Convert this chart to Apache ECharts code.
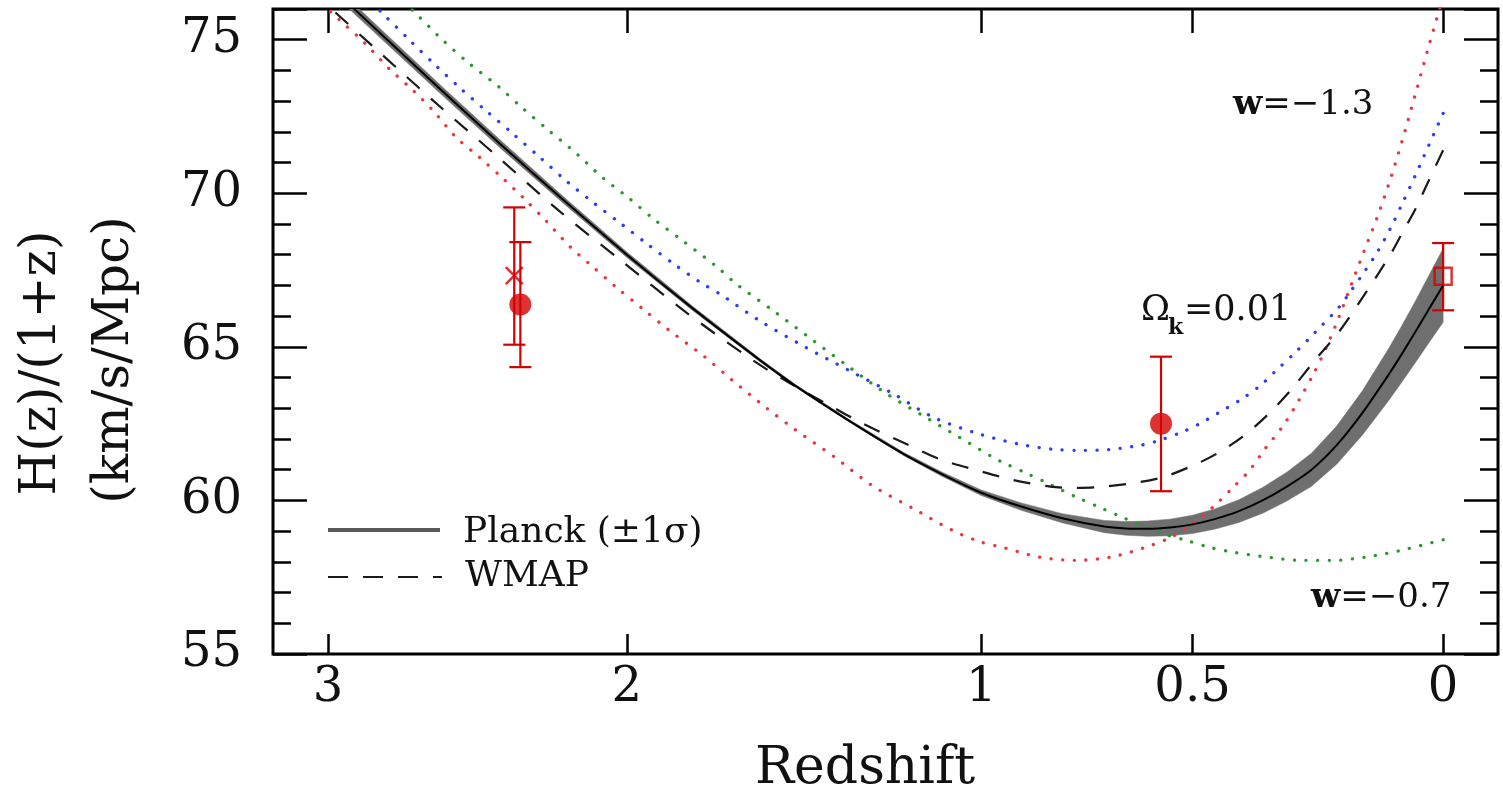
<!DOCTYPE html>
<html>
<head>
<meta charset="utf-8">
<title>H(z)/(1+z) vs redshift</title>
<script src="https://cdn.jsdelivr.net/npm/echarts@6/dist/echarts.min.js"></script>
<style>
html, body { margin: 0; padding: 0; background: #fff; }
#chart { width: 1503px; height: 793px; }
</style>
</head>
<body>
<div id="chart"></div>
<script>
// x ticks (redshift)
const xTicks = [3, 2, 1, 0.5, 0]

// Planck (with +-1 sigma band)
const planckZ = [0, 0.025, 0.05, 0.075, 0.1, 0.15, 0.2, 0.25, 0.3, 0.35, 0.4, 0.45, 0.5, 0.55, 0.6, 0.65, 0.7, 0.8, 0.9, 1.0, 1.1, 1.2, 1.35, 1.5, 1.6, 1.8, 2.0, 2.2, 2.4, 2.6, 2.8, 3.0, 3.2]
const planckH = [67.0, 66.25, 65.5, 64.78, 64.1, 62.85, 61.8, 61.0, 60.45, 60.0, 59.65, 59.4, 59.22, 59.12, 59.08, 59.09, 59.15, 59.42, 59.8, 60.25, 60.85, 61.5, 62.6, 63.74, 64.56, 66.26, 68.0, 69.78, 71.55, 73.32, 75.08, 76.8, 78.5]
const planckSigma = [1.2, 1.1, 1.0, 0.92, 0.85, 0.72, 0.62, 0.54, 0.47, 0.42, 0.37, 0.33, 0.3, 0.27, 0.25, 0.22, 0.2, 0.15, 0.12, 0.09, 0.07, 0.05, 0.04, 0.04, 0.05, 0.07, 0.09, 0.11, 0.13, 0.14, 0.15, 0.16, 0.17]

// WMAP
const wmapZ = [0, 0.025, 0.05, 0.075, 0.097, 0.146, 0.195, 0.244, 0.294, 0.344, 0.394, 0.444, 0.494, 0.565, 0.635, 0.717, 0.768, 0.829, 0.921, 1.002, 1.104, 1.206, 1.308, 1.409, 1.512, 1.613, 1.816, 2.017, 2.217, 2.416, 2.612, 2.807, 3.0, 3.2]
const wmapH = [71.4, 70.45, 69.5, 68.7, 68.0, 66.7, 65.5, 64.55, 63.55, 62.72, 62.05, 61.55, 61.17, 60.76, 60.56, 60.43, 60.41, 60.45, 60.67, 60.95, 61.33, 61.9, 62.48, 63.13, 63.8, 64.5, 66.1, 67.8, 69.45, 71.2, 72.85, 74.5, 76.1, 77.7]

// w = -1.3 (red)
const wlowZ = [0, 0.025, 0.05, 0.075, 0.097, 0.121, 0.146, 0.171, 0.195, 0.22, 0.245, 0.274, 0.309, 0.344, 0.379, 0.414, 0.454, 0.514, 0.555, 0.61, 0.687, 0.768, 0.854, 0.94, 1.002, 1.073, 1.175, 1.287, 1.389, 1.497, 1.584, 1.68, 1.766, 1.869, 1.951, 2.033, 2.117, 2.177, 2.257, 2.332, 2.396, 2.475, 2.554, 2.632, 2.7, 2.783, 2.866, 2.962, 3.05]
const wlowH = [76.4, 74.85, 73.25, 71.7, 70.45, 69.25, 68.15, 67.05, 66.0, 65.0, 64.15, 63.3, 62.4, 61.7, 60.95, 60.4, 59.8, 59.1, 58.75, 58.45, 58.15, 58.05, 58.15, 58.45, 58.65, 59.02, 59.73, 60.49, 61.41, 62.28, 63.03, 63.9, 64.7, 65.53, 66.24, 66.94, 67.7, 68.24, 69.11, 69.87, 70.47, 71.17, 71.82, 72.69, 73.34, 74.05, 74.86, 75.67, 76.4]

// Omega_k = 0.01 (blue)
const okZ = [0, 0.025, 0.05, 0.075, 0.097, 0.121, 0.146, 0.171, 0.195, 0.244, 0.284, 0.324, 0.354, 0.394, 0.444, 0.484, 0.524, 0.575, 0.615, 0.687, 0.757, 0.818, 0.9, 1.002, 1.124, 1.226, 1.349, 1.471, 1.603, 1.715, 1.776, 1.856, 1.937, 2.017, 2.107, 2.192, 2.276, 2.366, 2.455, 2.543, 2.622, 2.709, 2.806, 2.903]
const okH = [72.6, 71.6, 70.6, 69.65, 68.85, 68.1, 67.45, 66.85, 66.3, 65.45, 64.8, 64.2, 63.75, 63.3, 62.85, 62.5, 62.22, 61.95, 61.8, 61.66, 61.63, 61.66, 61.82, 62.15, 62.71, 63.45, 64.23, 64.99, 65.86, 66.7, 67.1, 67.7, 68.35, 69.0, 69.71, 70.41, 71.17, 71.95, 72.7, 73.45, 74.15, 74.95, 75.85, 76.75]

// w = -0.7 (green)
const whighZ = [0, 0.078, 0.142, 0.205, 0.274, 0.344, 0.414, 0.464, 0.514, 0.565, 0.615, 0.666, 0.707, 0.768, 0.829, 0.889, 0.94, 0.971, 1.063, 1.144, 1.247, 1.349, 1.461, 1.563, 1.67, 1.725, 1.836, 1.917, 1.997, 2.077, 2.157, 2.247, 2.336, 2.415, 2.514, 2.603, 2.69, 2.787]
const whighH = [58.72, 58.37, 58.16, 58.05, 58.05, 58.16, 58.32, 58.48, 58.7, 58.91, 59.19, 59.5, 59.75, 60.12, 60.52, 60.9, 61.2, 61.41, 62.11, 62.71, 63.47, 64.34, 65.31, 66.18, 67.05, 67.59, 68.51, 69.16, 69.87, 70.52, 71.28, 72.04, 72.8, 73.5, 74.26, 75.02, 75.84, 76.7]

// BAO / H0 measurements
const obsZ = [2.36, 2.34, 0.57, 0]
const obsH = [67.32, 66.38, 62.5, 67.3]
const obsLo = [65.07, 64.34, 60.3, 66.19]
const obsHi = [69.54, 68.41, 64.68, 68.38]
const obsSymbol = ['x', 'dot', 'dot', 'box']

// the original x axis is linear in sqrt(1+z), reversed
const zRange = [-0.096, 3.2]
function toAxis(z) {
  return Math.sqrt(1 + z)
}
function pairs(zs, hs) {
  return zs.map((z, i) => [toAxis(z), hs[i]])
}

const red = '#d40000'
const serif = '"DejaVu Serif", "Liberation Serif", serif'
const xTickU = xTicks.map(toAxis)

function xLabel(value) {
  let best = 0
  xTickU.forEach((u, i) => {
    if (Math.abs(u - value) < Math.abs(xTickU[best] - value)) best = i
  })
  return String(xTicks[best])
}

const tickLine = { color: '#000', width: 2.5 }

const xBase = {
  type: 'value',
  inverse: true,
  min: toAxis(zRange[0]),
  max: toAxis(zRange[1]),
  axisLine: { show: false },
  splitLine: { show: false },
}
const yBase = {
  type: 'value',
  min: 55,
  max: 76,
  interval: 5,
  axisLine: { show: false },
  splitLine: { show: false },
  axisTick: { show: true, inside: true, length: 34, lineStyle: tickLine },
  minorTick: { show: true, splitNumber: 5, length: 18, lineStyle: tickLine },
  minorSplitLine: { show: false }
}

const chart = echarts.init(document.getElementById('chart'))

const dotted = (color) => ({ color: color, width: 3.3, type: [0.1, 11.5], cap: 'round' })

function textStyle(text, font, align) {
  return {
    text: text, font: font, fill: '#111',
    align: align, verticalAlign: 'middle', textAlign: align, textVerticalAlign: 'middle'
  }
}

chart.setOption({
  animation: false,
  backgroundColor: '#fff',
  grid: {
    left: 273, right: 5, top: 9, bottom: 139,
    show: true, borderColor: '#000', borderWidth: 3, backgroundColor: 'transparent'
  },
  xAxis: [
    Object.assign({}, xBase, {
      position: 'bottom',
      axisTick: { inside: true, length: 20, customValues: xTickU, lineStyle: tickLine },
      axisLabel: {
        customValues: xTickU, formatter: xLabel, margin: 11,
        fontFamily: serif, fontSize: 48, color: '#111'
      }
    }),
    Object.assign({}, xBase, {
      position: 'top',
      axisTick: { inside: true, length: 24, customValues: xTickU, lineStyle: tickLine },
      axisLabel: { show: false }
    })
  ],
  yAxis: [
    Object.assign({}, yBase, {
      position: 'left',
      axisLabel: { margin: 31, showMaxLabel: false, fontFamily: serif, fontSize: 48, color: '#111' }
    }),
    Object.assign({}, yBase, {
      position: 'right',
      axisLabel: { show: false }
    })
  ],
  series: [
    {
      name: 'Planck band', type: 'custom', silent: true, clip: true,
      data: [[toAxis(planckZ[0]), planckH[0]]],
      renderItem: function (params, api) {
        const upper = []
        const lower = []
        planckZ.forEach((z, i) => {
          upper.push(api.coord([toAxis(z), planckH[i] + planckSigma[i]]))
          lower.unshift(api.coord([toAxis(z), planckH[i] - planckSigma[i]]))
        })
        return {
          type: 'polygon',
          shape: { points: upper.concat(lower) },
          style: { fill: '#6f6f6f', stroke: '#6f6f6f', lineWidth: 0.5 }
        }
      }
    },
    {
      name: 'w=-1.3', type: 'line', silent: true, data: pairs(wlowZ, wlowH),
      symbol: 'none', smooth: 0.3, lineStyle: dotted('#e8383d')
    },
    {
      name: 'Ok=0.01', type: 'line', silent: true, data: pairs(okZ, okH),
      symbol: 'none', smooth: 0.3, lineStyle: dotted('#2e3cf2')
    },
    {
      name: 'w=-0.7', type: 'line', silent: true, data: pairs(whighZ, whighH),
      symbol: 'none', smooth: 0.3, lineStyle: dotted('#2c962f')
    },
    {
      name: 'WMAP', type: 'line', silent: true, data: pairs(wmapZ, wmapH),
      symbol: 'none', smooth: 0.3, lineStyle: { color: '#1a1a1a', width: 2.2, type: [17, 15] }
    },
    {
      name: 'Planck', type: 'line', silent: true, data: pairs(planckZ, planckH),
      symbol: 'none', smooth: 0.25, lineStyle: { color: '#000', width: 2 }
    },
    {
      name: 'errors', type: 'custom', silent: true,
      data: obsZ.map((z, i) => [toAxis(z), obsLo[i], obsHi[i]]),
      renderItem: function (params, api) {
        const lo = api.coord([api.value(0), api.value(1)])
        const hi = api.coord([api.value(0), api.value(2)])
        const cap = 11
        const style = { stroke: red, lineWidth: 2.2, fill: 'none' }
        return {
          type: 'group',
          children: [
            { type: 'line', shape: { x1: lo[0], y1: lo[1], x2: hi[0], y2: hi[1] }, style: style },
            { type: 'line', shape: { x1: lo[0] - cap, y1: lo[1], x2: lo[0] + cap, y2: lo[1] }, style: style },
            { type: 'line', shape: { x1: hi[0] - cap, y1: hi[1], x2: hi[0] + cap, y2: hi[1] }, style: style }
          ]
        }
      }
    },
    {
      name: 'points', type: 'scatter', silent: true,
      data: obsZ.map((z, i) => {
        const item = { value: [toAxis(z), obsH[i]] }
        if (obsSymbol[i] === 'dot') {
          item.symbol = 'circle'
          item.symbolSize = 22
          item.itemStyle = { color: red }
        } else if (obsSymbol[i] === 'box') {
          item.symbol = 'rect'
          item.symbolSize = 17
          item.itemStyle = { color: 'rgba(255,255,255,0)', borderColor: red, borderWidth: 2.5 }
        } else {
          item.symbol = 'path://M0,0L10,10M10,0L0,10'
          item.symbolSize = 17
          item.itemStyle = { color: 'rgba(255,255,255,0)', borderColor: red, borderWidth: 2.5 }
        }
        return item
      })
    }
  ],
  graphic: [
    // axis titles
    { type: 'text', x: 42, y: 363, rotation: Math.PI / 2, style: textStyle('H(z)/(1+z)', '50px ' + serif, 'center') },
    { type: 'text', x: 115, y: 360, rotation: Math.PI / 2, style: textStyle('(km/s/Mpc)', '50px ' + serif, 'center') },
    { type: 'text', x: 865, y: 769, style: textStyle('Redshift', '52px ' + serif, 'center') },
    // legend
    { type: 'line', shape: { x1: 328, y1: 530, x2: 440, y2: 530 }, style: { stroke: '#5a5a5a', lineWidth: 4 } },
    { type: 'text', x: 463, y: 533, style: textStyle('Planck (±1σ)', '36px ' + serif, 'left') },
    { type: 'line', shape: { x1: 328, y1: 577, x2: 442, y2: 577 }, style: { stroke: '#1a1a1a', lineWidth: 2.2, lineDash: [20, 15] } },
    { type: 'text', x: 465, y: 577, style: textStyle('WMAP', '36px ' + serif, 'left') },
    // curve annotations
    {
      type: 'text', x: 1233, y: 105,
      style: Object.assign(textStyle('{b|w}=−1.3', '34px ' + serif, 'left'), {
        rich: { b: { fontFamily: serif, fontSize: 34, fontWeight: 'bold', fill: '#111', color: '#111' } }
      })
    },
    {
      type: 'text', x: 1311, y: 598,
      style: Object.assign(textStyle('{b|w}=−0.7', '34px ' + serif, 'left'), {
        rich: { b: { fontFamily: serif, fontSize: 34, fontWeight: 'bold', fill: '#111', color: '#111' } }
      })
    },
    { type: 'text', x: 1141, y: 311, style: textStyle('Ω', '35px ' + serif, 'left') },
    { type: 'text', x: 1168, y: 328, style: textStyle('k', 'bold 22px ' + serif, 'left') },
    { type: 'text', x: 1184, y: 311, style: textStyle('=0.01', '35px ' + serif, 'left') }
  ]
})

window.onresize = () => chart.resize()
</script>
</body>
</html>
